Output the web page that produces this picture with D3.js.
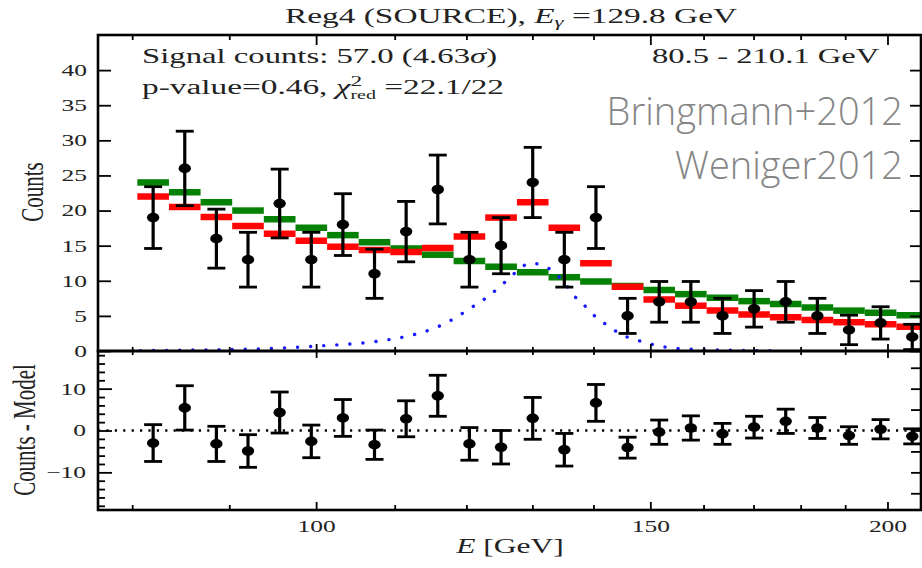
<!DOCTYPE html>
<html>
<head>
<meta charset="utf-8">
<script src="https://cdn.jsdelivr.net/npm/d3@7"></script>
<style>
  body { margin: 0; background: #fff; }
  svg { display: block; }
</style>
</head>
<body>
<div id="chart"></div>
<script>
// bin edges in GeV (25 log bins, 80.5 - 210.1 GeV)
const binEdges = [80.5, 83.65, 86.92, 90.32, 93.85, 97.53, 101.34, 105.30, 109.42, 113.70,
  118.15, 122.77, 127.58, 132.57, 137.75, 143.14, 148.74, 154.56, 160.60, 166.89,
  173.41, 180.20, 187.25, 194.57, 202.18, 210.1];
const counts = [19, 26, 16, 13, 21, 13, 18, 11, 17, 23, 13, 15, 24, 13, 19, 5, 7, 7, 5, 6, 7, 5, 3, 4, 2];
const countErr = [4.4, 5.3, 4.2, 3.9, 4.9, 3.9, 4.4, 3.5, 4.3, 4.9, 3.9, 4.0, 5.0, 3.9, 4.4,
  2.5, 2.9, 2.9, 2.5, 2.6, 2.9, 2.5, 2.1, 2.3, 1.8];
// signal + background model (red) and background only (green)
const modelTotal = [22.0, 20.5, 19.1, 17.8, 16.7, 15.7, 14.85, 14.4, 14.1, 14.65, 16.3, 19.0, 21.2,
  17.55, 12.5, 9.15, 7.35, 6.45, 5.75, 5.2, 4.8, 4.4, 4.1, 3.8, 3.45];
const modelBkg = [24.0, 22.6, 21.2, 20.0, 18.75, 17.55, 16.5, 15.5, 14.6, 13.7, 12.8, 12.0, 11.2,
  10.5, 9.9, 9.25, 8.7, 8.1, 7.6, 7.1, 6.7, 6.2, 5.75, 5.45, 5.1];
const residuals = [-3.0, 5.4, -3.2, -4.9, 4.3, -2.6, 3.0, -3.4, 2.8, 8.3, -3.2, -4.0, 2.9, -4.6, 6.6,
  -4.1, -0.4, 0.6, -0.8, 0.8, 2.2, 0.6, -1.2, 0.3, -1.4];
// line signal (blue dotted)
const lineE = [80.8, 86.9, 93.4, 100, 108.5, 112.1, 115.8, 118.7, 120.1, 123.1, 125.5, 126.9, 128.1,
  129.7, 131.6, 133.2, 135.6, 136.6, 138.1, 140.6, 142.3, 144.1, 145.8, 147.8, 150, 152.4, 157.5, 167.9, 174.3];
const lineCounts = [0.05, 0.15, 0.3, 0.7, 1.5, 2.2, 3.4, 4.9, 5.8, 7.7, 9.6, 10.8, 11.8,
  12.5, 12.2, 11.4, 9.2, 8.0, 6.8, 4.7, 3.7, 2.7, 2.0, 1.5, 1.0, 0.6, 0.25, 0.08, 0.02];

const xMajor = [100, 150, 200];
const xMinor = [80, 90, 110, 120, 130, 140, 160, 170, 180, 190];
const yTopTicks = [0, 5, 10, 15, 20, 25, 30, 35, 40];
const yBotMajor = [-10, 0, 10];
const yBotMinor = [-18, -16, -14, -12, -8, -6, -4, -2, 2, 4, 6, 8, 12, 14, 16, 18];
const yBotRight = [-15, -10, -5, 0, 5, 10, 15];

const width = 922, height = 568;
const pLeft = 98, pRight = 921, pTop = 35, pMid = 351, pBottom = 510;
const serif = "'Liberation Serif', 'DejaVu Serif', serif";
const SX = 1.5; // the figure is stretched horizontally

const svg = d3.select('#chart').append('svg')
    .attr('width', width)
    .attr('height', height);

const x = d3.scaleLog().domain([76.75, 208.3]).range([pLeft, pRight]);
const yTop = d3.scaleLinear().domain([0, 45]).range([pMid, pTop]);
const yBot = d3.scaleLinear().domain([-19, 19]).range([pBottom, pMid]);

const bins = counts.map(function(c, i) {
    return {
        lo: binEdges[i], hi: binEdges[i + 1],
        mid: Math.sqrt(binEdges[i] * binEdges[i + 1]),
        c: c, err: countErr[i], tot: modelTotal[i], bkg: modelBkg[i], res: residuals[i]
    };
});

const defs = svg.append('defs');
defs.append('clipPath').attr('id', 'clipTop').append('rect')
    .attr('x', pLeft).attr('y', pTop).attr('width', pRight - pLeft).attr('height', pMid - pTop);
defs.append('clipPath').attr('id', 'clipBot').append('rect')
    .attr('x', pLeft).attr('y', pMid).attr('width', pRight - pLeft).attr('height', pBottom - pMid);

// ---------- top panel ----------
const gTop = svg.append('g').attr('clip-path', 'url(#clipTop)');

gTop.selectAll('.bkg').data(bins).enter().append('line')
    .attr('x1', d => x(d.lo)).attr('x2', d => x(d.hi))
    .attr('y1', d => yTop(d.bkg)).attr('y2', d => yTop(d.bkg))
    .attr('stroke', '#058205').attr('stroke-width', 6.5);

gTop.selectAll('.tot').data(bins).enter().append('line')
    .attr('x1', d => x(d.lo)).attr('x2', d => x(d.hi))
    .attr('y1', d => yTop(d.tot)).attr('y2', d => yTop(d.tot))
    .attr('stroke', '#ff0505').attr('stroke-width', 6.5);

const lineData = lineE.map((e, i) => ({ e: e, v: lineCounts[i] }));
gTop.append('path')
    .datum(lineData)
    .attr('d', d3.line().x(d => x(d.e)).y(d => yTop(d.v)).curve(d3.curveMonotoneX))
    .attr('fill', 'none')
    .attr('stroke', '#1a1aff')
    .attr('stroke-width', 3.4)
    .attr('stroke-linecap', 'round')
    .attr('stroke-dasharray', '0.1,13');

function errorBars(g, yScale, key) {
    const eb = g.selectAll('.eb-' + key).data(bins).enter().append('g');
    eb.append('line')
        .attr('x1', d => x(d.mid)).attr('x2', d => x(d.mid))
        .attr('y1', d => yScale(d[key] - d.err)).attr('y2', d => yScale(d[key] + d.err))
        .attr('stroke', '#000').attr('stroke-width', 3.2);
    [-1, 1].forEach(function(s) {
        eb.append('line')
            .attr('x1', d => x(d.mid) - 9).attr('x2', d => x(d.mid) + 9)
            .attr('y1', d => yScale(d[key] + s * d.err)).attr('y2', d => yScale(d[key] + s * d.err))
            .attr('stroke', '#000').attr('stroke-width', 2.8);
    });
    eb.append('ellipse')
        .attr('cx', d => x(d.mid)).attr('cy', d => yScale(d[key]))
        .attr('rx', 6.2).attr('ry', 4.8)
        .attr('fill', '#000');
}
errorBars(gTop, yTop, 'c');

// ---------- bottom panel ----------
const gBot = svg.append('g').attr('clip-path', 'url(#clipBot)');
gBot.append('line')
    .attr('x1', pLeft).attr('x2', pRight)
    .attr('y1', yBot(0)).attr('y2', yBot(0))
    .attr('stroke', '#000').attr('stroke-width', 2.4)
    .attr('stroke-dasharray', '2.2,6.2');
errorBars(gBot, yBot, 'res');

// ---------- axes ----------
function styleAxis(g) {
    g.select('.domain').remove();
    g.selectAll('line').attr('stroke', '#000').attr('stroke-width', 1.8);
    g.selectAll('text')
        .attr('fill', '#222')
        .style('font-family', serif)
        .style('font-size', '17px')
        .each(function() {
            const t = d3.select(this);
            const tx = +t.attr('x') || 0;
            t.attr('transform', 'translate(' + tx + ',0) scale(' + SX + ',1)').attr('x', 0);
        });
}
function noLabel() { return ''; }

// top panel
svg.append('g').attr('transform', 'translate(' + pLeft + ',0)')
    .call(d3.axisLeft(yTop).tickValues(yTopTicks).tickSize(-13).tickPadding(11))
    .call(styleAxis);
svg.append('g').attr('transform', 'translate(' + pRight + ',0)')
    .call(d3.axisRight(yTop).tickValues(yTopTicks).tickSize(-11).tickFormat(noLabel))
    .call(styleAxis);
svg.append('g').attr('transform', 'translate(0,' + pTop + ')')
    .call(d3.axisTop(x).tickValues(xMajor).tickSize(-10).tickFormat(noLabel))
    .call(styleAxis);
svg.append('g').attr('transform', 'translate(0,' + pTop + ')')
    .call(d3.axisTop(x).tickValues(xMinor).tickSize(-5).tickFormat(noLabel))
    .call(styleAxis);
svg.append('g').attr('transform', 'translate(0,' + pMid + ')')
    .call(d3.axisBottom(x).tickValues(xMajor).tickSize(-7).tickFormat(noLabel))
    .call(styleAxis);
svg.append('g').attr('transform', 'translate(0,' + pMid + ')')
    .call(d3.axisBottom(x).tickValues(xMinor).tickSize(-4).tickFormat(noLabel))
    .call(styleAxis);

// bottom panel
svg.append('g').attr('transform', 'translate(0,' + pMid + ')')
    .call(d3.axisTop(x).tickValues(xMajor).tickSize(-7).tickFormat(noLabel))
    .call(styleAxis);
svg.append('g').attr('transform', 'translate(0,' + pMid + ')')
    .call(d3.axisTop(x).tickValues(xMinor).tickSize(-4).tickFormat(noLabel))
    .call(styleAxis);
svg.append('g').attr('transform', 'translate(0,' + pBottom + ')')
    .call(d3.axisBottom(x).tickValues(xMajor).tickSize(-8).tickPadding(10).tickFormat(d3.format('d')))
    .call(styleAxis);
svg.append('g').attr('transform', 'translate(0,' + pBottom + ')')
    .call(d3.axisBottom(x).tickValues(xMinor).tickSize(-5).tickFormat(noLabel))
    .call(styleAxis);
svg.append('g').attr('transform', 'translate(' + pLeft + ',0)')
    .call(d3.axisLeft(yBot).tickValues(yBotMajor).tickSize(-14).tickPadding(12))
    .call(styleAxis);
svg.append('g').attr('transform', 'translate(' + pLeft + ',0)')
    .call(d3.axisLeft(yBot).tickValues(yBotMinor).tickSize(-7).tickFormat(noLabel))
    .call(styleAxis);
svg.append('g').attr('transform', 'translate(' + pRight + ',0)')
    .call(d3.axisRight(yBot).tickValues(yBotRight).tickSize(-10).tickFormat(noLabel))
    .call(styleAxis);

// frames
[[pTop, pMid], [pMid, pBottom]].forEach(function(p) {
    svg.append('rect')
        .attr('x', pLeft).attr('y', p[0])
        .attr('width', pRight - pLeft).attr('height', p[1] - p[0])
        .attr('fill', 'none').attr('stroke', '#000').attr('stroke-width', 2.6);
});

// ---------- texts ----------
function stretched(px, py, size, fill) {
    return svg.append('text')
        .attr('transform', 'translate(' + px + ',' + py + ') scale(' + SX + ',1)')
        .style('font-family', serif)
        .style('font-size', size + 'px')
        .attr('fill', fill || '#222');
}
// squeeze/stretch a text so it spans the wanted width
function fitWidth(t, px, py, w) {
    const bw = t.node().getBBox().width;
    t.attr('transform', 'translate(' + px + ',' + py + ') scale(' + (w / bw) + ',1)');
}

const title = stretched(285, 23, 22);
title.append('tspan').text('Reg4 (SOURCE), ');
title.append('tspan').style('font-style', 'italic').text('E');
title.append('tspan').attr('dy', 4).style('font-size', '15px').style('font-style', 'italic').text('γ');
title.append('tspan').attr('dy', -4).text(' =129.8 GeV');
fitWidth(title, 285, 23, 452);

const sig = stretched(142, 63, 20);
sig.append('tspan').text('Signal counts: 57.0 (4.63');
sig.append('tspan').style('font-style', 'italic').text('σ');
sig.append('tspan').text(')');
fitWidth(sig, 142, 63, 355);

const pv = stretched(142, 94, 20);
pv.append('tspan').text('p-value=0.46, ');
pv.append('tspan').style('font-style', 'italic').text('χ');
pv.append('tspan').attr('dy', -8).style('font-size', '14px').text('2');
pv.append('tspan').attr('dx', -7).attr('dy', 13).style('font-size', '12px').text('red');
pv.append('tspan').attr('dy', -5).text(' =22.1/22');
fitWidth(pv, 142, 94, 362);

const rng = stretched(652, 63, 20);
rng.text('80.5 - 210.1 GeV');
fitWidth(rng, 652, 63, 228);

// axis titles
svg.append('text')
    .attr('transform', 'translate(43,192) scale(' + SX + ',1) rotate(-90)')
    .attr('text-anchor', 'middle')
    .style('font-family', serif).style('font-size', '21px')
    .attr('fill', '#222')
    .text('Counts');
svg.append('text')
    .attr('transform', 'translate(35,430) scale(' + SX + ',1) rotate(-90)')
    .attr('text-anchor', 'middle')
    .style('font-family', serif).style('font-size', '21px')
    .attr('fill', '#222')
    .text('Counts - Model');
const xl = svg.append('text')
    .attr('transform', 'translate(510,553) scale(' + SX + ',1)')
    .attr('text-anchor', 'middle')
    .style('font-family', serif).style('font-size', '21px')
    .attr('fill', '#222');
xl.append('tspan').style('font-style', 'italic').text('E');
xl.append('tspan').text(' [GeV]');

// watermark
const wm = svg.append('g')
    .attr('text-anchor', 'end')
    .style('font-family', "'Open Sans', 'Noto Sans', sans-serif")
    .style('font-weight', 300)
    .style('font-size', '38px')
    .attr('fill', '#858585');
wm.append('text').attr('x', 903).attr('y', 125).text('Bringmann+2012');
wm.append('text').attr('x', 903).attr('y', 179).text('Weniger2012');
</script>
</body>
</html>
